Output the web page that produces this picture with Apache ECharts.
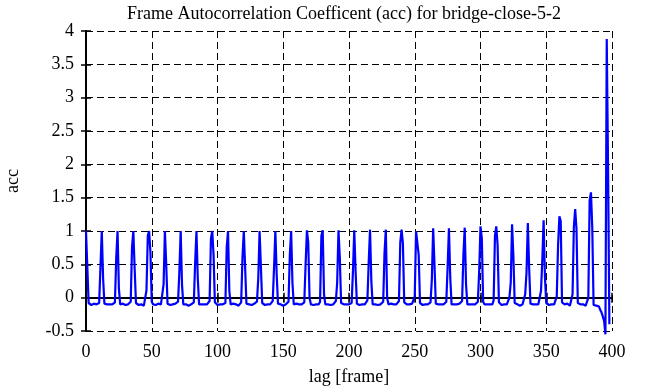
<!DOCTYPE html>
<html>
<head>
<meta charset="utf-8">
<script src="https://cdn.jsdelivr.net/npm/echarts@6/dist/echarts.min.js"></script>
<style>html,body{margin:0;padding:0;background:#fff;}#c{width:656px;height:387px;}</style>
</head>
<body>
<div id="c"></div>
<script>
var titleText = 'Frame Autocorrelation Coefficent (acc) for bridge-close-5-2';
var xTicks = [0, 50, 100, 150, 200, 250, 300, 350, 400];
var yTicks = [-0.5, 0, 0.5, 1, 1.5, 2, 2.5, 3, 3.5, 4];
// acc values for lag 0..398
var acc = [
1.0, 0.46, -0.08, -0.1, -0.11, -0.1, -0.09, -0.11, -0.1, -0.1, -0.08, 0.46,
1.0, 0.29, -0.09, -0.1, -0.1, -0.12, -0.1, -0.09, -0.1, -0.11, -0.07, 0.6,
1.0, 0.14, -0.1, -0.1, -0.09, -0.1, -0.11, -0.1, -0.1, -0.09, -0.06, 0.76,
1.0, 0.43, -0.08, -0.1, -0.11, -0.1, -0.1, -0.09, -0.12, -0.1, 0.11, 0.93,
1.0, 0.68, -0.06, -0.1, -0.1, -0.11, -0.1, -0.09, -0.1, -0.1, -0.08, 0.2,
1.0, 0.5, -0.09, -0.1, -0.11, -0.1, -0.1, -0.1, -0.09, -0.11, -0.06, 0.39,
1.0, 0.2, -0.1, -0.09, -0.1, -0.1, -0.12, -0.1, -0.1, -0.1, -0.07, 0.52,
1.0, 0.29, -0.1, -0.1, -0.1, -0.09, -0.1, -0.11, -0.1, -0.1, -0.05, 0.88,
1.0, 0.64, -0.07, -0.1, -0.11, -0.1, -0.1, -0.09, -0.1, -0.1, -0.08, 0.75,
1.0, 0.1, -0.1, -0.1, -0.09, -0.11, -0.1, -0.1, -0.12, -0.1, -0.07, 0.6,
1.0, 0.46, -0.09, -0.1, -0.1, -0.1, -0.11, -0.1, -0.09, -0.1, -0.06, 0.29,
1.0, 0.46, -0.08, -0.1, -0.11, -0.1, -0.1, -0.1, -0.1, -0.09, -0.05, 0.45,
1.0, 0.35, -0.09, -0.1, -0.1, -0.1, -0.12, -0.1, -0.1, -0.1, -0.06, 0.64,
1.0, 0.22, -0.1, -0.1, -0.09, -0.1, -0.1, -0.11, -0.1, -0.1, -0.07, 0.5,
1.01, 0.83, 0.0, -0.1, -0.1, -0.11, -0.1, -0.1, -0.09, -0.1, -0.06, 0.93,
1.01, 0.05, -0.1, -0.1, -0.1, -0.1, -0.11, -0.1, -0.1, -0.09, -0.05, 0.22,
1.01, 0.6, -0.08, -0.1, -0.1, -0.12, -0.1, -0.1, -0.1, -0.1, -0.08, 0.39,
1.01, 0.4, -0.09, -0.1, -0.11, -0.1, -0.1, -0.09, -0.1, -0.1, -0.04, 0.54,
1.02, 0.24, -0.1, -0.1, -0.1, -0.1, -0.11, -0.1, -0.1, -0.1, -0.06, 0.67,
1.02, 0.0, -0.1, -0.1, -0.09, -0.1, -0.1, -0.12, -0.1, -0.1, -0.05, 0.83,
1.02, 0.81, -0.07, -0.1, -0.1, -0.1, -0.1, -0.1, -0.09, -0.11, 0.02, 1.0,
1.02, 0.64, -0.08, -0.1, -0.11, -0.1, -0.1, -0.1, -0.1, -0.12, -0.07, 0.27,
1.04, 0.5, -0.09, -0.1, -0.1, -0.1, -0.1, -0.09, -0.1, -0.1, -0.06, 0.46,
1.04, 0.3, -0.1, -0.11, -0.1, -0.1, -0.1, -0.1, -0.09, -0.1, -0.05, 0.64,
1.05, 0.2, -0.1, -0.1, -0.1, -0.12, -0.1, -0.1, -0.1, -0.1, -0.06, 0.4,
1.07, 0.89, -0.06, -0.1, -0.1, -0.1, -0.11, -0.1, -0.1, -0.1, -0.04, 0.93,
1.07, 0.79, -0.07, -0.1, -0.11, -0.1, -0.1, -0.1, -0.1, -0.09, 0.0, 0.23,
1.1, 0.62, -0.08, -0.1, -0.1, -0.1, -0.12, -0.1, -0.1, -0.1, 0.05, 0.38,
1.12, 0.44, -0.09, -0.1, -0.1, -0.11, -0.1, -0.1, -0.1, -0.1, 0.1, 0.56,
1.16, 0.31, -0.08, -0.1, -0.11, -0.1, -0.1, -0.09, -0.1, -0.12, 0.02, 0.79,
1.22, 1.15, -0.07, -0.1, -0.1, -0.1, -0.09, -0.1, -0.12, -0.1, 0.05, 1.06,
1.33, 1.03, -0.08, -0.07, -0.1, -0.11, -0.1, -0.13, -0.12, -0.1, 0.0, 1.46,
1.58, 1.04, -0.11, -0.09, -0.12, -0.15, -0.13, -0.18, -0.22, -0.28, -0.35, -0.55,
3.88, 1.95, -0.4
];

var font = 'Liberation Serif, Times New Roman, serif';
var chart = echarts.init(document.getElementById('c'), null, {renderer: 'canvas'});
var data = acc.map(function (v, i) { return [i, v]; });

var gridLine = {show: true, lineStyle: {color: '#000', width: 1, type: [7, 4]}};
var axLine = {show: true, lineStyle: {color: '#000', width: 2}};
var tick = {show: true, inside: true, length: 5, lineStyle: {color: '#000', width: 1.5}};

chart.setOption({
  animation: false,
  backgroundColor: '#fff',
  title: {
    text: titleText, left: 122, top: 0,
    textStyle: {fontFamily: font, fontSize: 18, fontWeight: 'normal', color: '#000'}
  },
  grid: {left: 86, right: 44, top: 31, bottom: 56, outerBoundsMode: 'none', containLabel: false},
  xAxis: [{
    type: 'value', min: xTicks[0], max: xTicks[xTicks.length - 1], interval: 50,
    name: 'lag [frame]', nameLocation: 'middle', nameGap: 37,
    nameTextStyle: {fontFamily: font, fontSize: 18, color: '#000'},
    axisLine: axLine, axisTick: tick, splitLine: gridLine,
    axisLabel: {fontFamily: font, fontSize: 18, color: '#000', margin: 12}
  }, {
    type: 'value', position: 'top', min: 0, max: 400, interval: 50,
    axisLine: axLine, axisTick: tick, splitLine: {show: false}, axisLabel: {show: false}
  }],
  yAxis: [{
    type: 'value', min: yTicks[0], max: yTicks[yTicks.length - 1], interval: 0.5,
    name: 'acc', nameLocation: 'middle', nameGap: 64, nameRotate: 90,
    nameTextStyle: {fontFamily: font, fontSize: 18, color: '#000'},
    axisLine: axLine, axisTick: tick, splitLine: gridLine,
    axisLabel: {fontFamily: font, fontSize: 18, color: '#000', margin: 12}
  }, {
    type: 'value', position: 'right', min: -0.5, max: 4, interval: 0.5,
    axisLine: axLine, axisTick: tick, splitLine: {show: false}, axisLabel: {show: false}
  }],
  series: [{
    type: 'line', data: data, showSymbol: false, clip: false,
    lineStyle: {color: '#0000ff', width: 2.2}, itemStyle: {color: '#0000ff'}
  }]
});
</script>
</body>
</html>
